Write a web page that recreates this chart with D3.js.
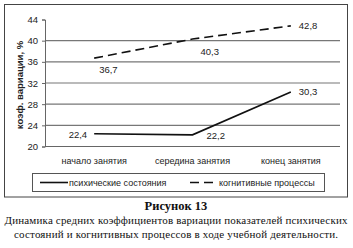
<!DOCTYPE html>
<html>
<head>
<meta charset="utf-8">
<script src="https://cdn.jsdelivr.net/npm/d3@7"></script>
<style>
  body { margin: 0; background: #fff; }
  svg { display: block; }
</style>
</head>
<body>
<div id="container"></div>
<script>
/* DATA */
const categories = ["начало занятия", "середина занятия", "конец занятия"];
const psychic = [22.4, 22.2, 30.3];      // психические состояния
const cognitive = [36.7, 40.3, 42.8];    // когнитивные процессы
const yTicks = [20, 24, 28, 32, 36, 40, 44];
const seriesNames = ["психические состояния", "когнитивные процессы"];

/* SIZES */
const width = 353, height = 248;
const plot = { left: 45, right: 340, top: 19.5, bottom: 146.5 };

const svg = d3.select("#container").append("svg")
  .attr("width", width)
  .attr("height", height);

// outer frame of the chart
svg.append("rect")
  .attr("x", 4.5).attr("y", 4.5)
  .attr("width", 343).attr("height", 192.5)
  .attr("fill", "none").attr("stroke", "#444").attr("stroke-width", 1);

/* SCALES */
const x = d3.scalePoint()
  .domain(categories)
  .range([plot.left, plot.right])
  .padding(0.5);

const y = d3.scaleLinear()
  .domain([20, 44])
  .range([plot.bottom, plot.top]);

// gridlines (no line on 44, and 20 is the axis)
svg.append("g").selectAll("line")
  .data(yTicks.filter(d => d > 20 && d < 44))
  .join("line")
  .attr("x1", plot.left).attr("x2", plot.right)
  .attr("y1", d => y(d)).attr("y2", d => y(d))
  .attr("stroke", "#777").attr("stroke-width", 1.2);

// y axis
const yAxis = d3.axisLeft(y).tickValues(yTicks).tickSize(3).tickFormat(d => d);
svg.append("g")
  .attr("transform", `translate(${plot.left},0)`)
  .call(yAxis)
  .call(g => g.select(".domain").attr("stroke", "#666"))
  .call(g => g.selectAll(".tick line").attr("stroke", "#666"))
  .call(g => g.selectAll("text")
    .attr("font-family", "Liberation Sans, Arial, sans-serif")
    .attr("font-size", 9.5).attr("fill", "#222").attr("x", -7));

// x axis line
svg.append("line")
  .attr("x1", plot.left).attr("x2", plot.right)
  .attr("y1", y(20)).attr("y2", y(20))
  .attr("stroke", "#666").attr("stroke-width", 1.2);

// category labels
svg.append("g").selectAll("text")
  .data(categories)
  .join("text")
  .attr("x", d => x(d))
  .attr("y", 164)
  .attr("text-anchor", "middle")
  .attr("font-family", "Liberation Sans, Arial, sans-serif")
  .attr("font-size", 9).attr("fill", "#222")
  .text(d => d);

// y title
svg.append("text")
  .attr("transform", "translate(23,85) rotate(-90)")
  .attr("text-anchor", "middle")
  .attr("font-family", "Liberation Sans, Arial, sans-serif")
  .attr("font-size", 9.5).attr("font-weight", "bold").attr("fill", "#222")
  .text("коэф. вариации, %");

/* LINES */
const line = d3.line()
  .x((d, i) => x(categories[i]))
  .y(d => y(d));

svg.append("path")
  .datum(psychic)
  .attr("d", line)
  .attr("fill", "none").attr("stroke", "#111").attr("stroke-width", 1.6);

svg.append("path")
  .datum(cognitive)
  .attr("d", line)
  .attr("fill", "none").attr("stroke", "#111").attr("stroke-width", 1.6)
  .attr("stroke-dasharray", "9,5");

/* VALUE LABELS */
const fmt = v => String(v).replace(".", ",");
const labelStyle = sel => sel
  .attr("font-family", "Liberation Sans, Arial, sans-serif")
  .attr("font-size", 9.5).attr("fill", "#222");

// offsets follow the original placement of each label
const psychicOffsets = [[-7, 4, "end"], [14, 4, "start"], [8, 3, "start"]];
const cognitiveOffsets = [[5, 15, "start"], [8, 16, "start"], [8, 3, "start"]];

svg.append("g").selectAll("text")
  .data(psychic)
  .join("text")
  .attr("x", (d, i) => x(categories[i]) + psychicOffsets[i][0])
  .attr("y", (d, i) => y(d) + psychicOffsets[i][1])
  .attr("text-anchor", (d, i) => psychicOffsets[i][2])
  .call(labelStyle)
  .text(fmt);

svg.append("g").selectAll("text")
  .data(cognitive)
  .join("text")
  .attr("x", (d, i) => x(categories[i]) + cognitiveOffsets[i][0])
  .attr("y", (d, i) => y(d) + cognitiveOffsets[i][1])
  .attr("text-anchor", (d, i) => cognitiveOffsets[i][2])
  .call(labelStyle)
  .text(fmt);

/* LEGEND */
const legend = svg.append("g");
legend.append("rect")
  .attr("x", 32.5).attr("y", 173.5)
  .attr("width", 292).attr("height", 18)
  .attr("fill", "none").attr("stroke", "#555").attr("stroke-width", 1);

const legendItems = [
  { name: seriesNames[0], x1: 40, x2: 68, dash: null },
  { name: seriesNames[1], x1: 190, x2: 218, dash: "9,5" }
];
legend.selectAll("line")
  .data(legendItems)
  .join("line")
  .attr("x1", d => d.x1).attr("x2", d => d.x2)
  .attr("y1", 182.5).attr("y2", 182.5)
  .attr("stroke", "#111").attr("stroke-width", 1.6)
  .attr("stroke-dasharray", d => d.dash);
legend.selectAll("text")
  .data(legendItems)
  .join("text")
  .attr("x", d => d.x2 + 1)
  .attr("y", 185.5)
  .call(labelStyle)
  .attr("font-size", 9)
  .text(d => d.name);

/* CAPTION */
svg.append("text")
  .attr("x", 176).attr("y", 210)
  .attr("text-anchor", "middle")
  .attr("font-family", "Liberation Serif, Times New Roman, serif")
  .attr("font-size", 12.5).attr("font-weight", "bold").attr("fill", "#111")
  .text("Рисунок 13");

const captionLines = [
  { text: "Динамика средних коэффициентов вариации показателей психических", len: 343 },
  { text: "состояний и когнитивных процессов в ходе учебной деятельности.", len: 324 }
];
svg.append("g").selectAll("text")
  .data(captionLines)
  .join("text")
  .attr("x", 176)
  .attr("y", (d, i) => 223.5 + i * 14)
  .attr("text-anchor", "middle")
  .attr("textLength", d => d.len)
  .attr("lengthAdjust", "spacing")
  .attr("font-family", "Liberation Serif, Times New Roman, serif")
  .attr("font-size", 11).attr("fill", "#111")
  .text(d => d.text);
</script>
</body>
</html>
